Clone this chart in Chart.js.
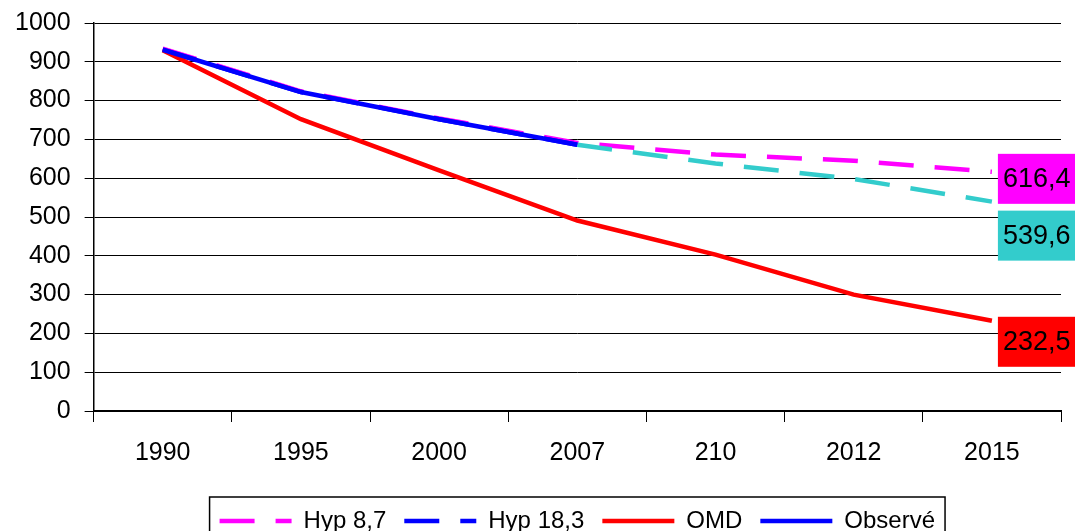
<!DOCTYPE html>
<html>
<head>
<meta charset="utf-8">
<script src="https://cdn.jsdelivr.net/npm/chart.js@4/dist/chart.umd.min.js"></script>
<style>
  body { margin: 0; background: #fff; }
  canvas { display: block; }
</style>
</head>
<body>
<canvas id="chart" width="1075" height="531"></canvas>
<script>
// categories (x axis), as written on the original chart
const years = ["1990", "1995", "2000", "2007", "210", "2012", "2015"];

// series values
const hyp87 = [934, 824, 754, 691, 661, 645, 616.4];
const hyp183 = [931, 822, 752, 686, 638, 598, 539.6];
const omd = [930, 752, 620, 491, 403, 300, 232.5];
const observe = [931, 822, 752, 686, null, null, null];

// y ticks
const yTicks = [0, 100, 200, 300, 400, 500, 600, 700, 800, 900, 1000];

const FONT = "'Liberation Sans', Arial, sans-serif";
const TEAL = "#33cccc";
const LINE_W = 4.5;

// end-of-line value boxes: which dataset, box colour and vertical shift from the point
const endLabels = [
  { dataset: 0, color: "#ff00ff", shift: -18 },
  { dataset: 1, color: TEAL, shift: 9 },
  { dataset: 2, color: "#ff0000", shift: -4 },
];

const fmt = (v) => v.toFixed(1).replace(".", ",");

// draws the coloured value boxes at the end of the lines
const endLabelPlugin = {
  id: "endLabels",
  afterDatasetsDraw(chart) {
    const ctx = chart.ctx;
    ctx.save();
    ctx.font = "27px " + FONT;
    ctx.textBaseline = "middle";
    ctx.textAlign = "left";
    endLabels.forEach((l) => {
      const meta = chart.getDatasetMeta(l.dataset);
      const data = chart.data.datasets[l.dataset].data;
      const last = data.length - 1;
      const pt = meta.data[last];
      const text = fmt(data[last]);
      const w = ctx.measureText(text).width + 12;
      const x = pt.x + 6;
      const y = pt.y + l.shift;
      ctx.fillStyle = l.color;
      ctx.fillRect(x, y, w, 50);
      ctx.fillStyle = "#000";
      ctx.fillText(text, x + 5, y + 26);
    });
    ctx.restore();
  },
};

// black frame around the legend
const legendFramePlugin = {
  id: "legendFrame",
  afterDraw(chart) {
    const lg = chart.legend;
    if (!lg || !lg.legendHitBoxes.length) return;
    const boxes = lg.legendHitBoxes;
    const left = boxes[0].left - 10;
    const right = boxes[boxes.length - 1].left + boxes[boxes.length - 1].width + 10;
    const top = boxes[0].top - 12;
    const ctx = chart.ctx;
    ctx.save();
    ctx.strokeStyle = "#000";
    ctx.lineWidth = 1.5;
    ctx.strokeRect(left, top, right - left, 60);
    ctx.restore();
  },
};

new Chart(document.getElementById("chart"), {
  type: "line",
  data: {
    labels: years,
    datasets: [
      {
        label: "Hyp 8,7",
        data: hyp87,
        borderColor: "#ff00ff",
        borderDash: [35, 21],
        order: 4,
      },
      {
        label: "Hyp 18,3",
        data: hyp183,
        borderColor: "#0000ff",
        borderDash: [35, 21],
        segment: {
          borderColor: (c) => (c.p0DataIndex >= 3 ? TEAL : undefined),
        },
        order: 3,
      },
      {
        label: "OMD",
        data: omd,
        borderColor: "#ff0000",
        order: 2,
      },
      {
        label: "Observé",
        data: observe,
        borderColor: "#0000ff",
        order: 1,
      },
    ],
  },
  options: {
    responsive: false,
    animation: false,
    devicePixelRatio: 1,
    layout: { padding: { top: 23, left: 1, right: 14, bottom: -12 } },
    elements: {
      line: { borderWidth: LINE_W, tension: 0, borderCapStyle: "butt" },
      point: { radius: 0, pointStyle: "line" },
    },
    plugins: {
      tooltip: { enabled: false },
      legend: {
        position: "bottom",
        fullSize: false,
        labels: {
          usePointStyle: true,
          pointStyleWidth: 72,
          padding: 18,
          color: "#000",
          font: { family: FONT, size: 24 },
          sort: (a, b) => a.datasetIndex - b.datasetIndex,
          generateLabels: (chart) => {
            const items = Chart.defaults.plugins.legend.labels.generateLabels(chart);
            return items.map((it) => {
              const ds = chart.data.datasets[it.datasetIndex];
              it.strokeStyle = ds.borderColor;
              it.lineWidth = LINE_W;
              it.lineDash = ds.borderDash || [];
              it.lineCap = "butt";
              return it;
            });
          },
        },
      },
    },
    scales: {
      x: {
        offset: true,
        afterFit: (scale) => { scale.height = 80; },
        grid: {
          offset: true,
          drawOnChartArea: false,
          tickLength: 11,
          color: "#000",
        },
        border: { color: "#000", width: 2 },
        ticks: {
          color: "#000",
          padding: 16,
          maxRotation: 0,
          font: { family: FONT, size: 25 },
        },
      },
      y: {
        min: 0,
        max: 1000,
        afterBuildTicks: (scale) => {
          scale.ticks = yTicks.map((v) => ({ value: v }));
        },
        afterFit: (scale) => { scale.paddingTop = 0; scale.paddingBottom = 0; },
        grid: { color: "#000", tickLength: 9, lineWidth: 1 },
        border: { color: "#000", width: 1.5 },
        ticks: {
          color: "#000",
          padding: 14,
          font: { family: FONT, size: 25 },
          callback: (v) => String(v),
        },
      },
    },
  },
  plugins: [endLabelPlugin, legendFramePlugin],
});
</script>
</body>
</html>
